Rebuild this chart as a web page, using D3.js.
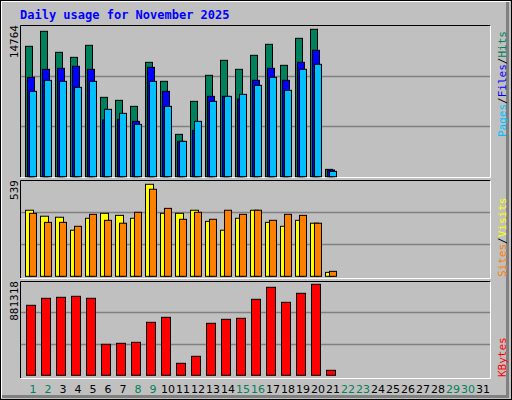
<!DOCTYPE html>
<html><head><meta charset="utf-8">
<script src="https://cdn.jsdelivr.net/npm/d3@7"></script>
<style>body{margin:0;background:#fff}</style></head><body>
<svg id="c" width="512" height="400"></svg>
<script>
const days = d3.range(1, 32);
const weekendDays = [1,2,8,9,15,16,22,23,29,30];
const hits  = [13060,14563,12458,11957,13160,7949,7649,7047,11456,9553,4242,7548,10154,11657,10755,12158,13260,11156,13861,14764,735];
const files = [9953,10755,10855,11056,10755,5678,5745,5545,10955,8551,3540,4643,8049,8049,7782,9653,10855,9653,11456,12659,668];
const pages = [8551,9653,9553,8951,9553,6747,6346,5244,9553,7047,3540,5545,7548,8049,8250,9152,9953,8651,10755,11256,534];
const visits= [387,352,346,270,340,369,357,340,539,369,369,387,322,270,340,387,316,293,328,311,23];
const sites = [369,316,316,293,363,328,311,375,510,398,334,375,334,387,363,387,328,363,357,311,29];
const kbytes= [677943,745737,755422,765107,745737,300232,309917,319602,513300,561724,116219,184013,503615,542354,552039,736052,852271,706998,794159,881318,48425];

const svg = d3.select("#c");
svg.append("rect").attr("x",0).attr("y",0).attr("width",512).attr("height",400).attr("fill","#c0c0c0");
// outer bevel
svg.append("rect").attr("x",0.5).attr("y",0.5).attr("width",511).attr("height",399).attr("fill","none").attr("stroke","#000");
svg.append("path").attr("d","M1.5,398 V1.5 H510").attr("stroke","#fff").attr("fill","none");
svg.append("path").attr("d","M2,396.5 H507.5 V2").attr("stroke","#808080").attr("stroke-width",3).attr("fill","none");

svg.append("text").attr("x",20).attr("y",19).text("Daily usage for November 2025")
  .attr("font-family","DejaVu Sans Mono").attr("font-weight","bold").attr("font-size",12).attr("fill","#0000ff");

const x = d3.scaleLinear().domain([1,32]).range([25,490]);
const panels = [
  {top:25, bot:177, base:176.7, maxY:29.3},
  {top:180, bot:278, base:276.3, maxY:184.3},
  {top:281, bot:378, base:375.3, maxY:284.3}
];
panels.forEach(p=>{
  svg.append("rect").attr("x",20).attr("y",p.top).attr("width",471).attr("height",p.bot-p.top).attr("fill","#c0c0c0");
  const h=p.base-p.top;
  [1,2].forEach(k=>{
    const gy=Math.round(p.base - h*k/3)+0.5;
    svg.append("line").attr("x1",20).attr("x2",490).attr("y1",gy).attr("y2",gy).attr("stroke","#808080").attr("stroke-width",1.5);
  });
  svg.append("path").attr("d",`M20.5,${p.bot} V${p.top+0.5} H490.5`).attr("stroke","#000").attr("fill","none");
  svg.append("path").attr("d",`M20.5,${p.bot+0.5} H490.5 V${p.top+0.5}`).attr("stroke","#fff").attr("fill","none");
});
function yS(p,max){return d3.scaleLinear().domain([0,max]).range([p.base,p.maxY]);}
function bars(data,scale,off,w,color){
  svg.append("g").selectAll("rect").data(data).join("rect")
    .attr("x",(d,i)=>x(i+1)+off+0.5).attr("y",d=>scale(d))
    .attr("width",w).attr("height",d=>scale(0)-scale(d))
    .attr("fill",color).attr("stroke","#000").attr("stroke-width",1);
}
const y1=yS(panels[0],d3.max(hits));
bars(hits,y1,0,7,"#00805c");
bars(files,y1,2,7,"#0000ff");
bars(pages,y1,4,7,"#00c0ff");
const y2=yS(panels[1],d3.max(visits));
bars(visits,y2,0,8,"#ffff00");
bars(sites,y2,4,7,"#ff8000");
const y3=yS(panels[2],d3.max(kbytes));
bars(kbytes,y3,1,9,"#ff0000");

function vlabel(xp,yp,txt,anchor,fill){
  svg.append("text").attr("transform",`translate(${xp},${yp}) rotate(-90)`).attr("text-anchor",anchor)
   .attr("font-family","DejaVu Sans Mono").attr("font-size",11).attr("fill",fill||"#000").text(txt);
}
vlabel(18,25,d3.max(hits),"end");
vlabel(18,180,d3.max(visits),"end");
vlabel(18,281,d3.max(kbytes),"end");
function rlabel(yp,parts){
  const t=svg.append("text").attr("transform",`translate(506,${yp}) rotate(-90)`).attr("text-anchor","start")
   .attr("font-family","DejaVu Sans Mono").attr("font-size",11);
  parts.forEach(([s,c])=>t.append("tspan").attr("fill",c).text(s));
}
rlabel(137,[["Pages","#00c0ff"],["/","#000"],["Files","#0000ff"],["/","#000"],["Hits","#00805c"]]);
rlabel(277,[["Sites","#ff8000"],["/","#000"],["Visits","#ffff00"]]);
rlabel(377,[["KBytes","#ff0000"]]);

svg.append("g").selectAll("text").data(days).join("text")
  .attr("x",d=>x(d)+8).attr("y",393).attr("text-anchor","middle")
  .attr("font-family","DejaVu Sans").attr("font-size",11)
  .attr("fill",d=>weekendDays.includes(d)?"#00805c":"#000").text(d=>d);
</script></body></html>
